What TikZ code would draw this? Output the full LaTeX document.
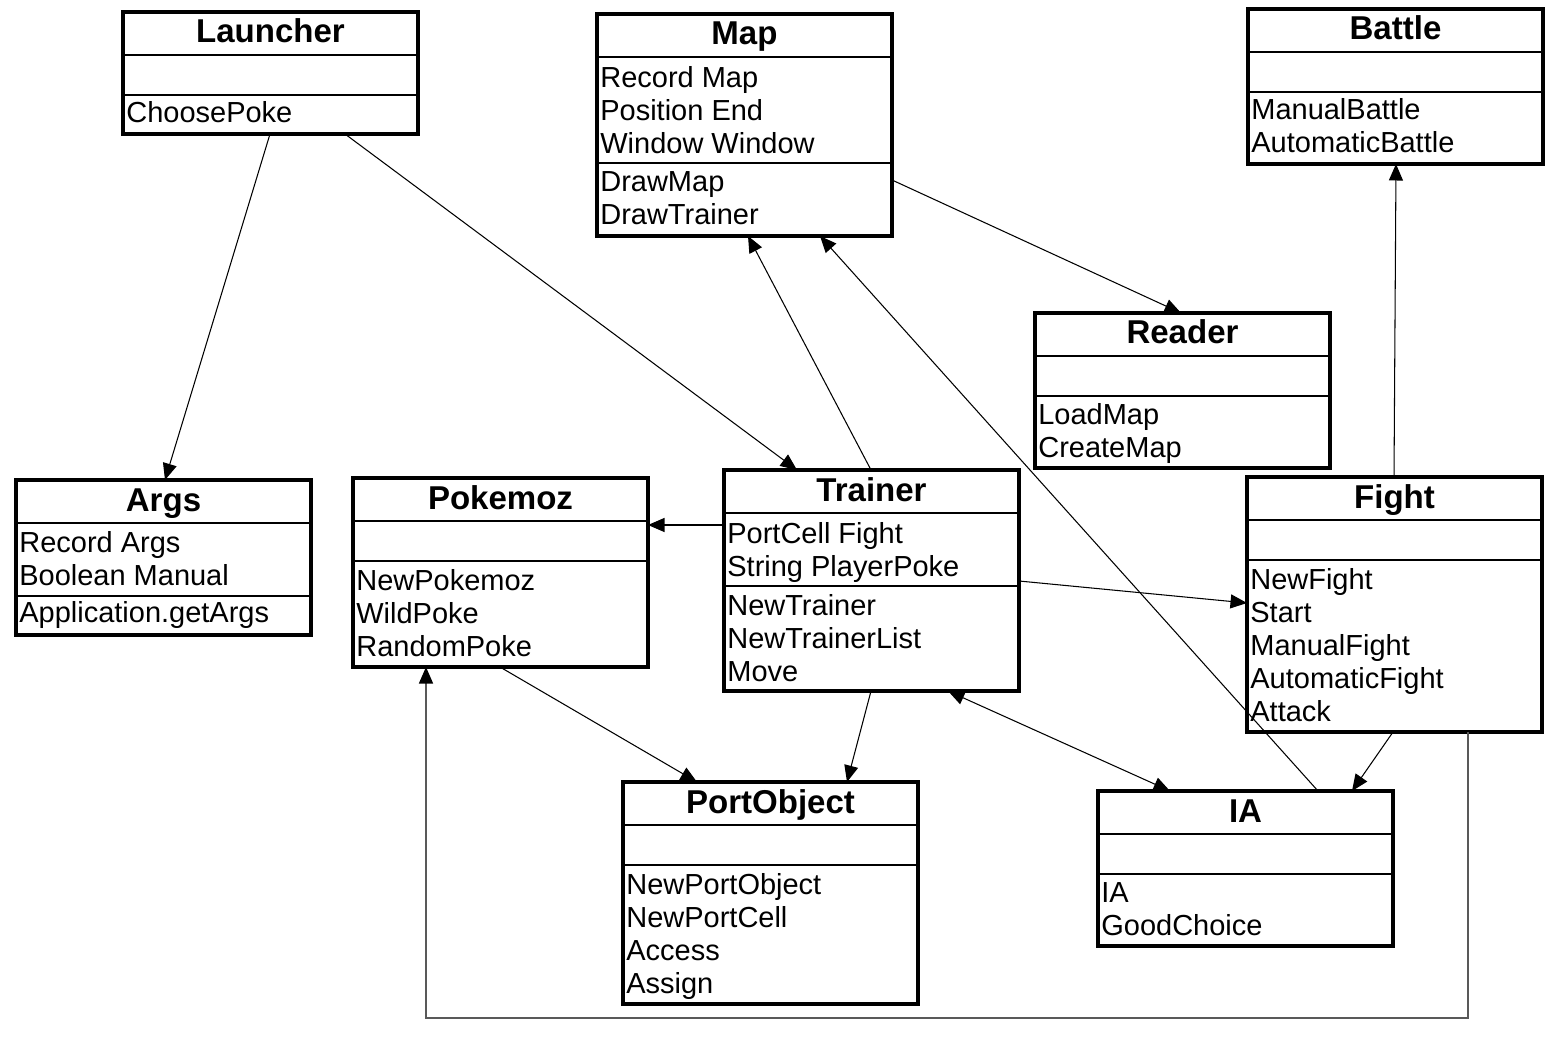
\documentclass[tikz,border=0pt]{standalone}
\usepackage{fontspec}
\setmainfont{Liberation Sans}
\usetikzlibrary{fit,calc,arrows.meta}
\tikzset{
  classframe/.style={draw, line width=1.8pt, inner sep=0pt, outer sep=0pt},
  seprule/.style={line width=0.9pt},
  titletext/.style={anchor=base, inner sep=0pt, font=\fontsize{18.8}{22}\selectfont\bfseries},
  linetext/.style={anchor=base west, inner sep=0pt, font=\fontsize{16.5}{19}\selectfont},
  conn/.style={line width=0.6pt, -{Triangle[length=0.33cm,width=0.28cm]}},
  biconn/.style={line width=0.6pt, {Triangle[length=0.33cm,width=0.28cm]}-{Triangle[length=0.33cm,width=0.28cm]}},
  loopline/.style={line width=0.75pt, draw=black!65, arrows={-{Triangle[length=0.33cm,width=0.28cm,fill=black,color=black]}}}
}
\newcommand\umlclass[8]{%
  \node[classframe, fit={(#2,#3)(#4,#5)}] (#1) {};
  \node[titletext] (#1-title) at ({(#2+#4)/2},{#3+31}) {#6};
  \draw[seprule] (#2,#7) -- (#4,#7);
  \draw[seprule] (#2,#8) -- (#4,#8);
}
\newcommand\umllines[4]{%
  \foreach \txt [count=\k] in {#4} {\node[linetext] (#1-\k) at ({#2+3},{#3+33*(\k-1)}) {\txt};}
}
\begin{document}
\begin{tikzpicture}[x={(0.02cm,0)}, y={(0,-0.02cm)}]
\useasboundingbox (0,0) rectangle (1561,1043);
\fill[white] (0,0) rectangle (1561,1043);

% Launcher
\umlclass{launcher}{123}{12}{418}{134}{Launcher}{55}{95}
\umllines{launcher-m}{123}{123}{ChoosePoke}
% Map
\umlclass{map}{597}{14}{892}{236}{Map}{57}{163}
\umllines{map-a}{597}{88}{Record Map,Position End,Window Window}
\umllines{map-m}{597}{192}{DrawMap,DrawTrainer}
% Battle
\umlclass{battle}{1248}{9}{1543}{164}{Battle}{52}{92}
\umllines{battle-m}{1248}{120}{ManualBattle,AutomaticBattle}
% Reader
\umlclass{reader}{1035}{313}{1330}{468}{Reader}{356}{396}
\umllines{reader-m}{1035}{425}{LoadMap,CreateMap}
% Args
\umlclass{args}{16}{480}{311}{635}{Args}{523}{596}
\umllines{args-a}{16}{552}{Record Args,Boolean Manual}
\umllines{args-m}{16}{622}{Application.getArgs}
% Pokemoz
\umlclass{pokemoz}{353}{478}{648}{667}{Pokemoz}{521}{561}
\umllines{pokemoz-m}{353}{590}{NewPokemoz,WildPoke,RandomPoke}
% Trainer
\umlclass{trainer}{724}{470}{1019}{691}{Trainer}{513}{586}
\umllines{trainer-a}{724}{543}{PortCell Fight,String PlayerPoke}
\umllines{trainer-m}{724}{615}{NewTrainer,NewTrainerList,Move}
% Fight
\umlclass{fight}{1247}{477}{1542}{732}{Fight}{520}{560}
\umllines{fight-m}{1247}{589}{NewFight,Start,ManualFight,AutomaticFight,Attack}
% PortObject
\umlclass{portobject}{623}{782}{918}{1004}{PortObject}{825}{865}
\umllines{portobject-m}{623}{894}{NewPortObject,NewPortCell,Access,Assign}
% IA
\umlclass{ia}{1098}{791}{1393}{946}{IA}{834}{874}
\umllines{ia-m}{1098}{902}{IA,GoodChoice}

% connectors
\draw[conn] ($(launcher.south west)+(147,0)$) -- ($(args.north west)+(149,0)$);
\draw[conn] ($(launcher.south west)+(222,0)$) -- ($(trainer.north west)+(73,0)$);
\draw[conn] ($(map.north east)+(0,166)$) -- ($(reader.north west)+(146,0)$);
\draw[conn] ($(trainer.north west)+(147,0)$) -- ($(map.south west)+(151,0)$);
\draw[conn] ($(ia.north west)+(220,0)$) -- ($(map.south west)+(223,0)$);
\draw[conn] ($(fight.north west)+(147,0)$) -- ($(battle.south west)+(148,0)$);
\draw[conn] ($(trainer.north west)+(0,55)$) -- ($(pokemoz.north east)+(0,47)$);
\draw[conn] ($(trainer.north east)+(0,111)$) -- ($(fight.north west)+(0,126)$);
\draw[conn] ($(trainer.south west)+(147,0)$) -- ($(portobject.north west)+(224,0)$);
\draw[biconn] ($(trainer.south west)+(224,0)$) -- ($(ia.north west)+(72,0)$);
\draw[conn] ($(pokemoz.south west)+(147,0)$) -- ($(portobject.north west)+(74,0)$);
\draw[conn] ($(fight.south west)+(146,0)$) -- ($(ia.north west)+(254,0)$);
\coordinate (loopA) at (1468,1018);
\coordinate (loopB) at (426,1018);
\draw[loopline] ($(fight.south west)+(221,0)$) -- (loopA) -- (loopB) -- ($(pokemoz.south west)+(73,0)$);
\end{tikzpicture}
\end{document}
